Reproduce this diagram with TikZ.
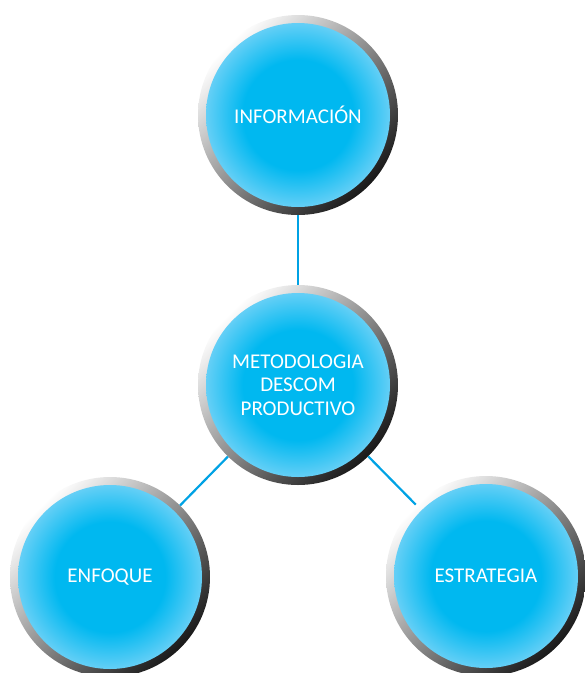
\documentclass[tikz,border=0pt]{standalone}
\usepackage{fontspec}
\setmainfont{Carlito}
\definecolor{ballcore}{RGB}{0,184,240}
\definecolor{ballrim}{RGB}{100,207,246}
\definecolor{linkblue}{RGB}{0,162,228}
\pgfdeclareradialshading{ballblue}{\pgfpoint{0bp}{0bp}}{color(0bp)=(ballcore); color(15bp)=(ballcore); color(25bp)=(ballrim); color(50bp)=(ballrim)}
\tikzset{
  ball/.style={circle, minimum size=200pt, inner sep=0pt, text=white,
    font=\fontsize{21}{23.5}\selectfont, align=center,
    path picture={
      \shade[top color=white, bottom color=black!90, middle color=black!45, shading angle=45]
        (path picture bounding box.south west) rectangle (path picture bounding box.north east);
      \shade[shading=ballblue] (path picture bounding box.center) circle (92pt);
    }},
  link/.style={draw=linkblue, line width=2.2pt}
}
\begin{document}
\begin{tikzpicture}[x=1pt,y=-1pt]
\useasboundingbox (0,0) rectangle (585,673);
\node[ball] (info) at (298,115) {INFORMACIÓN};
\node[ball] (meto) at (298,385) {METODOLOGIA\\DESCOM\\PRODUCTIVO};
\node[ball] (enf) at (110,577) {ENFOQUE};
\node[ball] (est) at (486,576) {ESTRATEGIA};
\draw[link] (info) -- (meto);
\draw[link] (meto) -- (enf);
\draw[link] (meto) -- (est);
\end{tikzpicture}
\end{document}
